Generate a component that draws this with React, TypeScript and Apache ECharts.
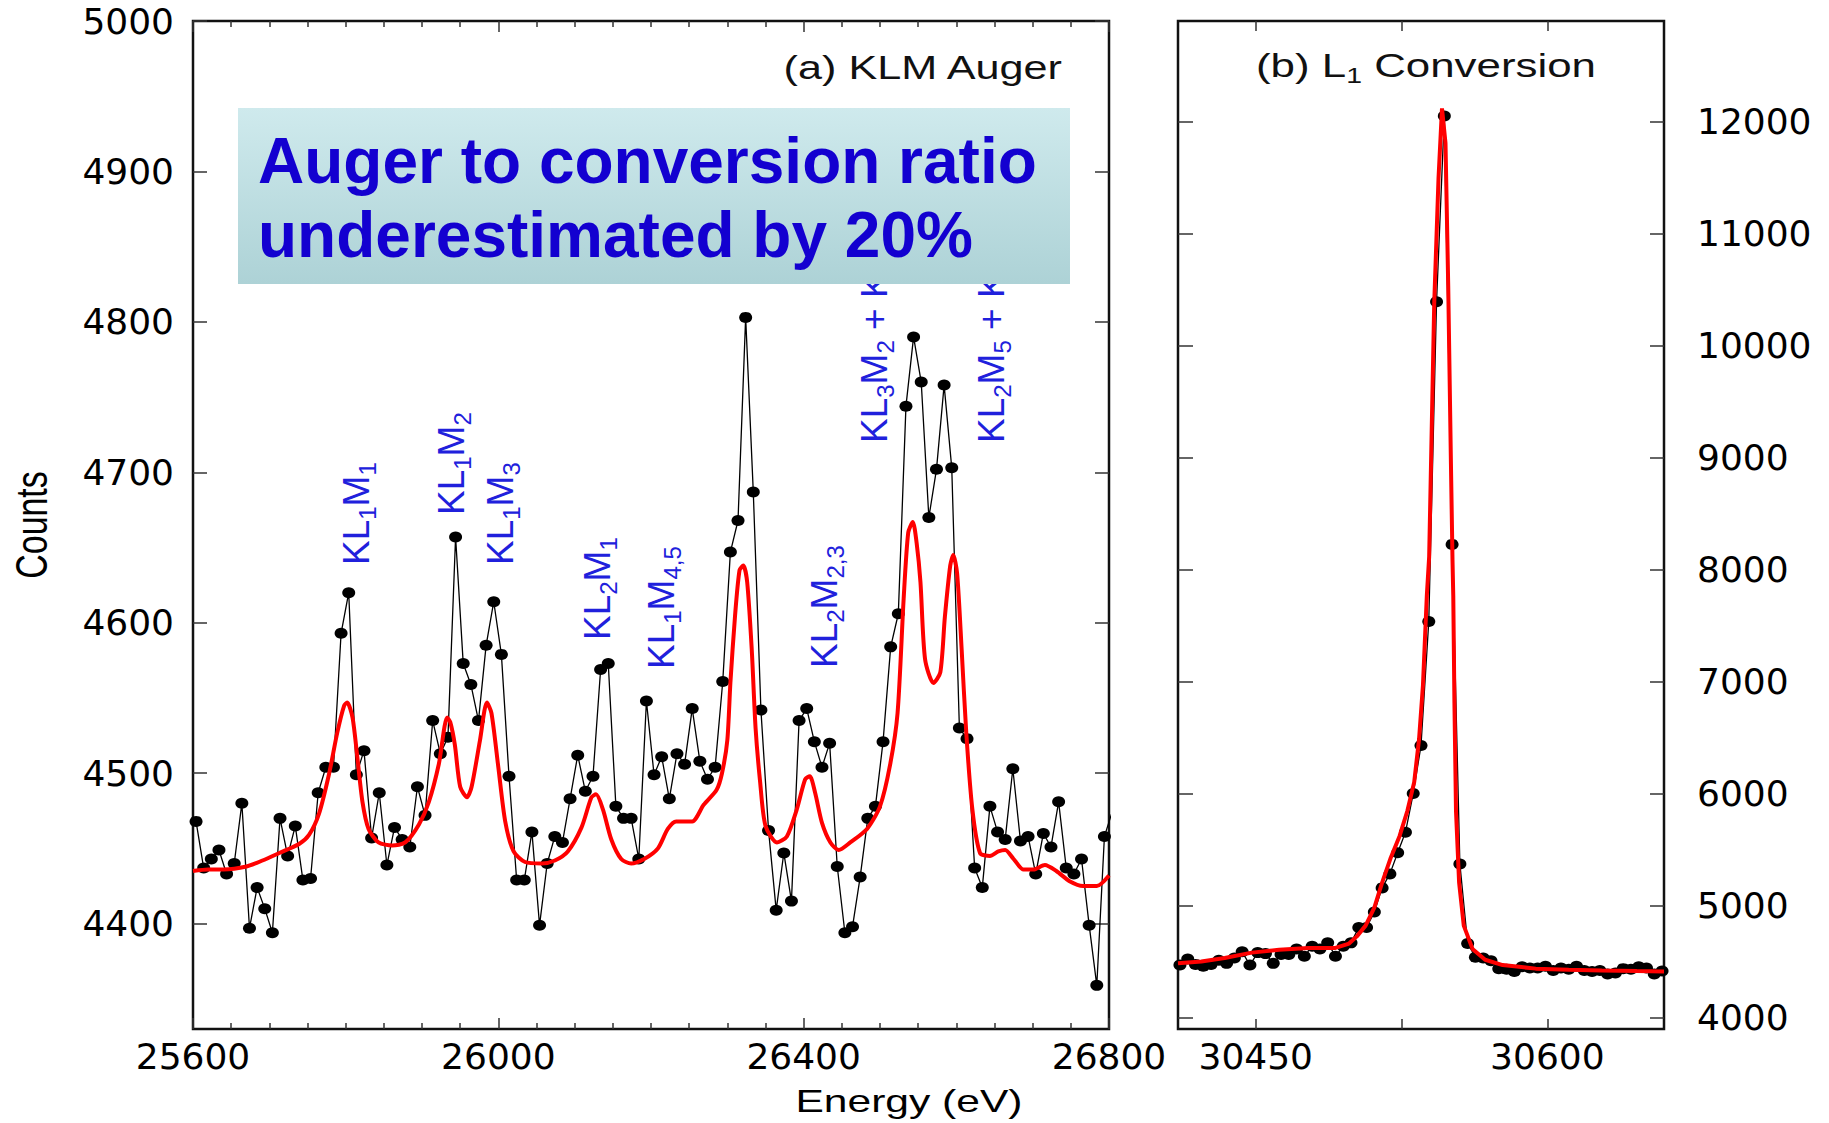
import React, { useEffect, useRef } from 'react';
import * as echarts from 'echarts';

// ---------- DATA ----------
// (a) KLM Auger spectrum: channel energies start + step*i, counts
const augerStart = 25604;
const augerStep = 10;
const augerCounts = [
  4468, 4437, 4443, 4449, 4433, 4440, 4480, 4397, 4424, 4410,
  4394, 4470, 4445, 4465, 4429, 4430, 4487, 4504, 4504, 4593,
  4620, 4499, 4515, 4457, 4487, 4439, 4464, 4456, 4451, 4491,
  4472, 4535, 4513, 4524, 4657, 4573, 4559, 4535, 4585, 4614,
  4579, 4498, 4429, 4429, 4461, 4399, 4440, 4458, 4454, 4483,
  4512, 4488, 4498, 4569, 4573, 4478, 4470, 4470, 4443, 4548,
  4499, 4511, 4483, 4513, 4506, 4543, 4508, 4496, 4504, 4561,
  4647, 4668, 4803, 4687, 4542, 4462, 4409, 4447, 4415, 4535,
  4543, 4521, 4504, 4520, 4438, 4394, 4398, 4431, 4470, 4478,
  4521, 4584, 4606, 4744, 4790, 4760, 4670, 4702, 4758, 4703,
  4530, 4523, 4437, 4424, 4478, 4461, 4456, 4503, 4455, 4458,
  4433, 4460, 4451, 4481, 4437, 4433, 4443, 4399, 4359, 4458,
  4474,
];

// (a) fit curve [energy, counts]
const augerFit = [
  [25600, 4435], [25620, 4436], [25640, 4436], [25670, 4438], [25691, 4442],
  [25713, 4447], [25739, 4453], [25752, 4459], [25765, 4473], [25778, 4499],
  [25789, 4527], [25798, 4545], [25802, 4547], [25809, 4537], [25815, 4512],
  [25822, 4481], [25830, 4463], [25843, 4454], [25861, 4452], [25878, 4454],
  [25896, 4466], [25909, 4481], [25922, 4506], [25933, 4537], [25937, 4534],
  [25943, 4519], [25950, 4491], [25959, 4484], [25965, 4491], [25976, 4522],
  [25985, 4547], [25991, 4540], [26000, 4504], [26009, 4468], [26020, 4448],
  [26035, 4441], [26057, 4440], [26074, 4442], [26091, 4448], [26109, 4464],
  [26122, 4484], [26128, 4486], [26137, 4476], [26148, 4456], [26161, 4443],
  [26174, 4440], [26191, 4443], [26209, 4450], [26222, 4463], [26233, 4468],
  [26254, 4468], [26269, 4479], [26286, 4489], [26293, 4500], [26300, 4522],
  [26304, 4560], [26310, 4604], [26316, 4635], [26321, 4638], [26326, 4627],
  [26332, 4582], [26337, 4530], [26343, 4494], [26350, 4465], [26365, 4454],
  [26378, 4458], [26391, 4476], [26402, 4496], [26408, 4498], [26415, 4487],
  [26424, 4467], [26435, 4454], [26446, 4449], [26461, 4454], [26483, 4463],
  [26500, 4478], [26513, 4505], [26523, 4540], [26531, 4616], [26537, 4660],
  [26543, 4667], [26548, 4653], [26553, 4627], [26559, 4576], [26570, 4560],
  [26579, 4567], [26585, 4604], [26592, 4638], [26596, 4645], [26601, 4633],
  [26607, 4582], [26613, 4527], [26621, 4476], [26631, 4447], [26644, 4445],
  [26655, 4448], [26664, 4449], [26675, 4443], [26688, 4436], [26701, 4436],
  [26716, 4439], [26731, 4435], [26749, 4428], [26766, 4425], [26784, 4425],
  [26800, 4432],
];

// (b) L1 conversion line
const convStart = 30411;
const convStep = 4;
const convCounts = [
  4471, 4525, 4477, 4461, 4477, 4513, 4486, 4534, 4589, 4471,
  4582, 4573, 4486, 4566, 4566, 4615, 4550, 4638, 4615, 4669,
  4550, 4638, 4669, 4807, 4807, 4945, 5160, 5285, 5473, 5656,
  6002, 6431, 7539, 10393, 12051, 8227, 5374, 4663, 4541, 4534,
  4509, 4439, 4433, 4413, 4455, 4445, 4445, 4461, 4423, 4445,
  4433, 4461, 4423, 4413, 4423, 4391, 4400, 4439, 4433, 4455,
  4445, 4391, 4417,
];

const convFit = [
  [30410, 4486], [30422, 4502], [30434, 4534], [30448, 4582], [30462, 4608],
  [30477, 4624], [30491, 4624], [30498, 4663], [30502, 4727], [30506.5, 4823],
  [30511, 4983], [30515, 5207], [30519.5, 5432], [30524, 5624], [30528, 5848],
  [30531.5, 6104], [30534, 6489], [30536, 6969], [30538, 7770], [30539.2, 8117],
  [30541.8, 10377], [30544, 11492], [30545.8, 12120], [30547.6, 11811], [30549, 10537],
  [30550.4, 8944], [30551.2, 8090], [30551.6, 7769], [30552.2, 6809], [30553, 5848],
  [30554.6, 5207], [30557, 4823], [30561.5, 4615], [30568, 4518], [30577, 4471],
  [30594, 4439], [30611, 4429], [30628, 4423], [30646, 4417], [30660, 4413],
];

const countsTicksA = [4400, 4500, 4600, 4700, 4800, 4900, 5000];
const countsTicksB = [4000, 5000, 6000, 7000, 8000, 9000, 10000, 11000, 12000];
const convXTicks = [30450, 30525, 30600];
const convXLabels = [30450, 30600];

const peakNames = [
  '{n|KL}{s|1}{n|M}{s|1}',
  '{n|KL}{s|1}{n|M}{s|2}',
  '{n|KL}{s|1}{n|M}{s|3}',
  '{n|KL}{s|2}{n|M}{s|1}',
  '{n|KL}{s|1}{n|M}{s|4,5}',
  '{n|KL}{s|2}{n|M}{s|2,3}',
  '{n|KL}{s|3}{n|M}{s|2}{n| + K}',
  '{n|KL}{s|2}{n|M}{s|5}{n| + K}',
];

const titleA = '(a) KLM Auger';
const titleB = '{t|(b) L}{u|1}{t| Conversion}';
const boxLines = ['Auger to conversion ratio', 'underestimated by 20%'];
const yName = 'Counts';
const xName = 'Energy (eV)';

// ---------- LAYOUT / STYLE ----------
const peakAnchors = [
  [367, 565], [462, 515], [511, 565], [608, 640],
  [672, 669], [835, 668], [885, 443], [1002, 443],
];

const SANS = '"Liberation Sans", Arial, Helvetica, sans-serif';
const TICK_FONT = '"DejaVu Sans", sans-serif';
const BLUE_LABEL = '#2020dc';
const BLUE_BOX = '#1300d0';
const fmt = (v: number) => String(v);

const tickStyle = { color: '#333', width: 1.5 };

export default function App() {
  const ref = useRef<HTMLDivElement>(null);

  useEffect(() => {
    if (!ref.current) return;
    const chart = echarts.init(ref.current, undefined, { renderer: 'svg' });

    const augerPoints = augerCounts.map((c, i) => [augerStart + augerStep * i, c]);
    const convPoints = convCounts.map((c, i) => [convStart + convStep * i, c]);

    const labelBase = { fontSize: 36, color: '#000', fontFamily: TICK_FONT, formatter: fmt };

    const peakElements = peakNames.map((txt, i) => ({
      type: 'text',
      x: peakAnchors[i][0] - 11,
      y: peakAnchors[i][1],
      rotation: Math.PI / 2,
      z: 10,
      style: {
        text: txt,
        align: 'left',
        verticalAlign: 'middle',
        fill: BLUE_LABEL,
        rich: {
          n: { fontSize: 37, fontFamily: SANS, fill: BLUE_LABEL, color: BLUE_LABEL, lineHeight: 46 },
          s: { fontSize: 24, fontFamily: SANS, fill: BLUE_LABEL, color: BLUE_LABEL, lineHeight: 24, verticalAlign: 'bottom' },
        },
      },
    }));

    const option: any = {
      animation: false,
      backgroundColor: '#ffffff',
      textStyle: { fontFamily: TICK_FONT },
      grid: [
        { left: 193, top: 21, width: 916, height: 1008, show: true, borderColor: '#111', borderWidth: 2.5, backgroundColor: 'transparent', containLabel: false },
        { left: 1178, top: 21, width: 486, height: 1008, show: true, borderColor: '#111', borderWidth: 2.5, backgroundColor: 'transparent', containLabel: false },
      ],
      xAxis: [
        {
          gridIndex: 0, type: 'value', position: 'bottom', min: 25600, max: 26800, interval: 400,
          axisLine: { show: false },
          axisTick: { inside: true, length: 11, lineStyle: tickStyle },
          minorTick: { show: true, splitNumber: 8, length: 6, lineStyle: tickStyle },
          splitLine: { show: false }, minorSplitLine: { show: false },
          axisLabel: { ...labelBase, margin: 9 },
        },
        {
          gridIndex: 0, type: 'value', position: 'top', min: 25600, max: 26800, interval: 400,
          axisLine: { show: false },
          axisTick: { inside: true, length: 11, lineStyle: tickStyle },
          minorTick: { show: true, splitNumber: 8, length: 6, lineStyle: tickStyle },
          splitLine: { show: false }, minorSplitLine: { show: false },
          axisLabel: { show: false },
        },
        {
          gridIndex: 1, type: 'value', position: 'bottom', min: 30410, max: 30660,
          axisLine: { show: false },
          axisTick: { inside: true, length: 10, lineStyle: tickStyle, customValues: convXTicks },
          splitLine: { show: false },
          axisLabel: { ...labelBase, margin: 9, customValues: convXLabels },
        },
        {
          gridIndex: 1, type: 'value', position: 'top', min: 30410, max: 30660,
          axisLine: { show: false },
          axisTick: { inside: true, length: 10, lineStyle: tickStyle, customValues: convXTicks },
          splitLine: { show: false },
          axisLabel: { show: false },
        },
      ],
      yAxis: [
        {
          gridIndex: 0, type: 'value', position: 'left', min: 4330, max: 5000,
          axisLine: { show: false },
          axisTick: { inside: true, length: 14, lineStyle: tickStyle, customValues: countsTicksA },
          splitLine: { show: false },
          axisLabel: { ...labelBase, margin: 19, customValues: countsTicksA },
        },
        {
          gridIndex: 0, type: 'value', position: 'right', min: 4330, max: 5000,
          axisLine: { show: false },
          axisTick: { inside: true, length: 14, lineStyle: tickStyle, customValues: countsTicksA },
          splitLine: { show: false },
          axisLabel: { show: false },
        },
        {
          gridIndex: 1, type: 'value', position: 'left', min: 3900, max: 12900,
          axisLine: { show: false },
          axisTick: { inside: true, length: 15, lineStyle: tickStyle, customValues: countsTicksB },
          splitLine: { show: false },
          axisLabel: { show: false },
        },
        {
          gridIndex: 1, type: 'value', position: 'right', min: 3900, max: 12900,
          axisLine: { show: false },
          axisTick: { inside: true, length: 14, lineStyle: tickStyle, customValues: countsTicksB },
          splitLine: { show: false },
          axisLabel: { ...labelBase, margin: 33, customValues: countsTicksB },
        },
      ],
      series: [
        {
          type: 'line', xAxisIndex: 0, yAxisIndex: 0, data: augerPoints,
          symbol: 'circle', symbolSize: [13, 11], itemStyle: { color: '#000' },
          lineStyle: { color: '#000', width: 1.3 }, z: 3, silent: true,
        },
        {
          type: 'line', xAxisIndex: 0, yAxisIndex: 0, data: augerFit,
          symbol: 'none', showSymbol: false, smooth: 0.25,
          lineStyle: { color: '#ff0000', width: 4 }, z: 4, silent: true,
        },
        {
          type: 'line', xAxisIndex: 2, yAxisIndex: 3, data: convPoints,
          symbol: 'circle', symbolSize: [13, 11], itemStyle: { color: '#000' },
          lineStyle: { color: '#000', width: 1.3 }, z: 3, silent: true,
        },
        {
          type: 'line', xAxisIndex: 2, yAxisIndex: 3, data: convFit,
          symbol: 'none', showSymbol: false,
          lineStyle: { color: '#ff0000', width: 4 }, z: 4, silent: true,
        },
      ],
      graphic: {
        elements: [
          ...peakElements,
          {
            type: 'rect', z: 20,
            shape: { x: 238, y: 108, width: 832, height: 176 },
            style: {
              fill: new echarts.graphic.LinearGradient(0, 0, 0, 1, [
                { offset: 0, color: '#cfeaed' },
                { offset: 1, color: '#add2d6' },
              ]),
            },
          },
          {
            type: 'text', z: 21, x: 258, y: 161,
            style: { text: boxLines[0], fontSize: 64, fontWeight: 'bold', fontFamily: SANS, fill: BLUE_BOX, align: 'left', verticalAlign: 'middle' },
          },
          {
            type: 'text', z: 21, x: 258, y: 235,
            style: { text: boxLines[1], fontSize: 64, fontWeight: 'bold', fontFamily: SANS, fill: BLUE_BOX, align: 'left', verticalAlign: 'middle' },
          },
          {
            type: 'text', z: 21, x: 1062, y: 67, scaleX: 1.27,
            style: { text: titleA, fontSize: 34, fontFamily: SANS, fill: '#111', align: 'right', verticalAlign: 'middle' },
          },
          {
            type: 'text', z: 21, x: 1256, y: 65, scaleX: 1.29,
            style: {
              text: titleB, align: 'left', verticalAlign: 'middle', fill: '#111',
              rich: {
                t: { fontSize: 34, fontFamily: SANS, fill: '#111', color: '#111', lineHeight: 42 },
                u: { fontSize: 22, fontFamily: SANS, fill: '#111', color: '#111', lineHeight: 22, verticalAlign: 'bottom' },
              },
            },
          },
          {
            type: 'text', z: 21, x: 31, y: 525, rotation: Math.PI / 2, scaleX: 0.77,
            style: { text: yName, fontSize: 44, fontFamily: SANS, fill: '#000', align: 'center', verticalAlign: 'middle' },
          },
          {
            type: 'text', z: 21, x: 909, y: 1101, scaleX: 1.33,
            style: { text: xName, fontSize: 32, fontFamily: SANS, fill: '#000', align: 'center', verticalAlign: 'middle' },
          },
        ],
      },
    };

    chart.setOption(option);
    return () => chart.dispose();
  }, []);

  return (
    <div
      ref={ref}
      style={{ position: 'fixed', left: 0, top: 0, width: 1829, height: 1123, background: '#fff' }}
    />
  );
}
